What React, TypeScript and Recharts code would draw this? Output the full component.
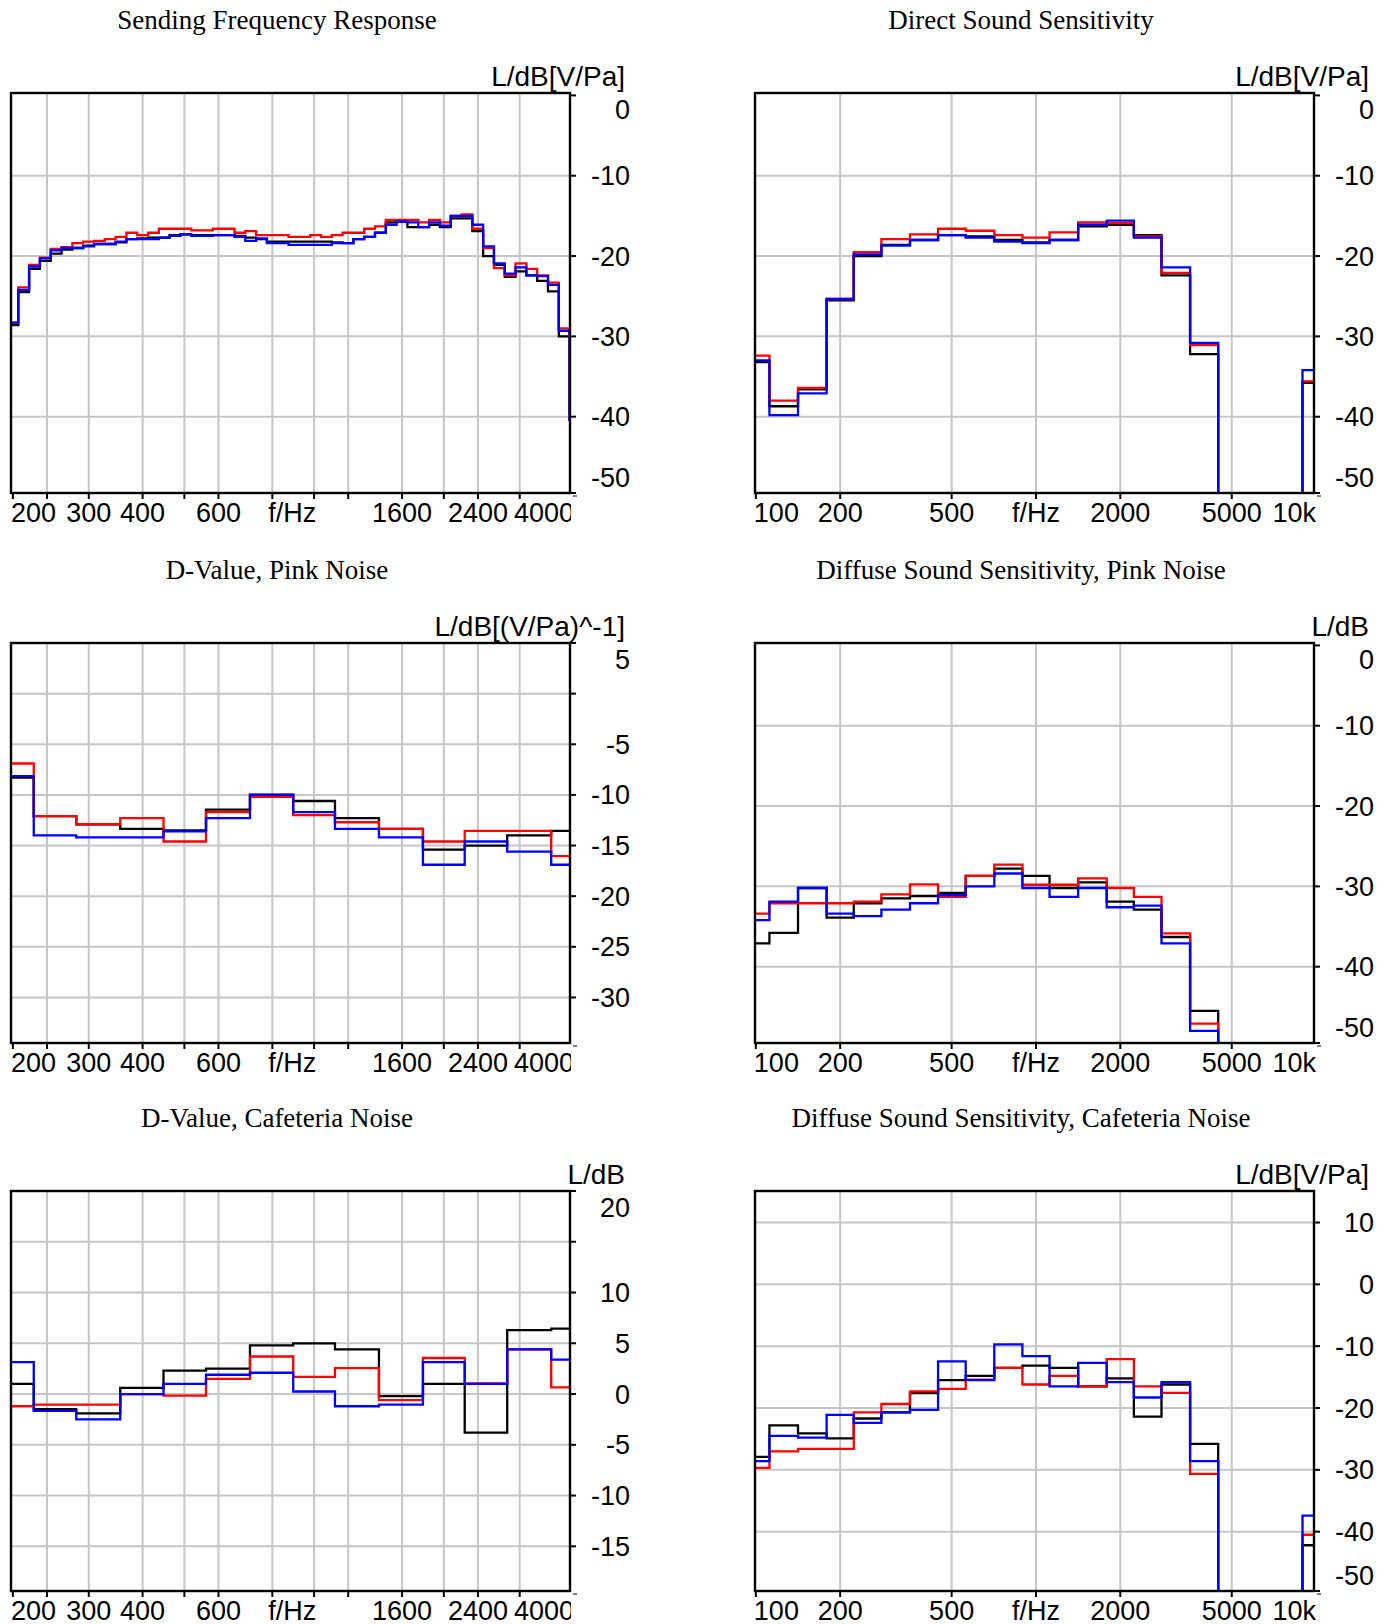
import React from 'react';
import { LineChart, Line, XAxis, YAxis, CartesianGrid } from 'recharts';

const SANS = '"Liberation Sans", Arial, Helvetica, sans-serif';
const SERIF = '"Liberation Serif", "Times New Roman", Times, serif';

// ---------------- data ----------------
// value used for bands that lie below the plotted range (no signal shown)
const OFF = -100;

// 1/12-octave band centres (Hz) – Sending Frequency Response
const sfrBands = [200, 211.9, 224.5, 237.8, 252, 267, 282.8, 299.7, 317.5, 336.4, 356.4, 377.6, 400, 423.8, 449, 475.7, 504, 533.9, 565.7, 599.3, 635, 672.7, 712.7, 755.1, 800, 847.6, 898, 951.4, 1008, 1068, 1131, 1199, 1270, 1345, 1425, 1510, 1600, 1695, 1796, 1903, 2016, 2136, 2263, 2397, 2540, 2691, 2851, 3020, 3200, 3390, 3592, 3805, 4032];
const sfrBlack = [-28.6, -24.5, -21.6, -20.6, -19.7, -19.2, -19.0, -18.7, -18.5, -18.5, -18.3, -17.9, -17.8, -17.7, -17.7, -17.4, -17.3, -17.4, -17.4, -17.4, -17.4, -17.5, -17.7, -17.9, -18.2, -18.2, -18.2, -18.2, -18.2, -18.2, -18.3, -18.4, -17.9, -17.6, -17.1, -15.8, -15.7, -16.4, -16.4, -16.1, -16.4, -15.3, -15.3, -16.9, -20.0, -21.1, -22.6, -21.9, -22.4, -23.1, -24.4, -30.0, -40.4];
const sfrRed = [-28.3, -23.9, -21.1, -20.2, -19.1, -18.9, -18.4, -18.2, -18.1, -17.9, -17.6, -17.1, -17.4, -17.1, -16.6, -16.6, -16.6, -16.8, -16.8, -16.6, -16.6, -17.1, -16.9, -17.4, -17.4, -17.4, -17.6, -17.6, -17.4, -17.6, -17.4, -17.1, -17.1, -16.6, -16.3, -15.5, -15.5, -15.5, -15.8, -15.5, -15.8, -15.0, -14.8, -16.6, -19.0, -21.5, -22.4, -20.9, -21.6, -22.4, -23.3, -29.0, -40.4];
const sfrBlue = [-28.3, -24.2, -21.3, -20.3, -19.3, -19.0, -19.0, -18.8, -18.5, -18.5, -18.2, -17.9, -17.9, -17.9, -17.7, -17.5, -17.3, -17.5, -17.5, -17.4, -17.4, -17.6, -18.1, -17.8, -18.4, -18.4, -18.6, -18.6, -18.6, -18.6, -18.4, -18.4, -17.9, -17.6, -17.1, -16.1, -15.7, -15.8, -16.4, -15.8, -16.2, -15.0, -15.0, -16.1, -18.8, -20.9, -22.2, -21.4, -22.4, -22.5, -23.6, -29.3, -40.4];

// 1/3-octave band centres (Hz), 100 Hz – 10 kHz
const wideBands = [100, 125, 160, 200, 250, 315, 400, 500, 630, 800, 1000, 1250, 1600, 2000, 2500, 3150, 4000, 5000, 6300, 8000, 10000];
// Direct Sound Sensitivity
const dssBlack = [-33.2, -38.7, -36.6, -25.5, -20.0, -18.6, -18.0, -17.4, -17.55, -18.0, -18.3, -18.0, -16.3, -16.1, -17.4, -22.4, -32.2, OFF, OFF, OFF, -35.8];
const dssRed = [-32.4, -38.0, -36.4, -25.35, -19.5, -17.9, -17.3, -16.6, -16.85, -17.4, -17.7, -17.05, -15.8, -15.9, -17.55, -22.1, -31.1, OFF, OFF, OFF, -35.6];
const dssBlue = [-33.0, -39.8, -37.1, -25.35, -19.8, -18.7, -18.0, -17.4, -17.7, -18.2, -18.4, -18.0, -16.1, -15.6, -17.7, -21.4, -30.8, OFF, OFF, OFF, -34.2];
// Diffuse Sound Sensitivity, Pink Noise
const dpnSensBlack = [-37.1, -35.8, -30.2, -33.9, -32.1, -31.5, -31.2, -30.8, -28.7, -27.8, -28.7, -30.2, -29.5, -31.9, -32.9, -36.3, -45.5, OFF, OFF, OFF, OFF];
const dpnSensRed = [-33.4, -32.1, -32.1, -32.1, -31.9, -31.0, -29.75, -31.3, -28.7, -27.3, -29.8, -29.8, -29.0, -30.2, -31.3, -35.85, -47.1, OFF, OFF, OFF, OFF];
const dpnSensBlue = [-34.2, -31.9, -30.2, -33.4, -33.7, -32.9, -32.1, -31.1, -30.0, -28.4, -30.2, -31.3, -30.2, -32.6, -32.4, -37.1, -48.0, OFF, OFF, OFF, OFF];
// Diffuse Sound Sensitivity, Cafeteria Noise
const dcnSensBlack = [-27.9, -22.8, -24.1, -24.9, -21.7, -20.7, -17.6, -15.5, -14.8, -13.5, -13.15, -13.5, -16.5, -15.2, -21.4, -16.2, -25.8, OFF, OFF, OFF, -42.2];
const dcnSensRed = [-29.7, -27.0, -26.6, -26.6, -20.7, -19.35, -17.3, -16.9, -15.4, -13.5, -16.2, -14.8, -16.5, -12.1, -16.5, -17.55, -30.65, OFF, OFF, OFF, -40.5];
const dcnSensBlue = [-28.6, -24.5, -24.8, -21.1, -22.4, -20.7, -20.3, -12.45, -15.5, -9.7, -11.6, -16.5, -12.7, -15.8, -18.3, -15.8, -28.6, OFF, OFF, OFF, -37.4];

// 1/3-octave band centres (Hz), 200 Hz – 4 kHz
const narrowBands = [200, 250, 315, 400, 500, 630, 800, 1000, 1250, 1600, 2000, 2500, 3150, 4000];
// D-Value, Pink Noise
const dvpBlack = [-8.3, -12.1, -12.9, -13.35, -13.5, -11.45, -10.0, -10.6, -12.3, -13.35, -15.4, -15.0, -14.0, -13.55];
const dvpRed = [-6.9, -12.1, -12.9, -12.3, -14.6, -11.7, -10.2, -12.0, -12.7, -13.35, -14.6, -13.55, -13.55, -16.05];
const dvpBlue = [-8.15, -14.0, -14.2, -14.2, -13.6, -12.3, -9.97, -11.7, -13.35, -14.2, -16.9, -14.6, -15.6, -16.9];
// D-Value, Cafeteria Noise
const dvcBlack = [1.0, -1.5, -1.9, 0.6, 2.3, 2.5, 4.8, 5.0, 4.4, -0.2, 1.0, -3.8, 6.3, 6.45];
const dvcRed = [-1.2, -1.05, -1.05, 0.0, -0.15, 1.5, 3.7, 1.7, 2.55, -0.6, 3.55, 1.05, 4.4, 0.65];
const dvcBlue = [3.15, -1.65, -2.5, 0.0, 1.0, 1.9, 2.1, 0.25, -1.2, -1.05, 3.15, 1.0, 4.4, 3.4];

// ---------------- axes ----------------
const narrowDomain = [198, 3925];
const narrowGrid = [240, 300, 400, 500, 600, 800, 1000, 1200, 1600, 2000, 2400, 3000];
const narrowMarks = [200, 240, 300, 400, 500, 600, 800, 1000, 1200, 1600, 2000, 2400, 3000];
const narrowLabelVals = [200, 300, 400, 600, 890, 1600, 2400, 3925];
const narrowLabelText = ['200', '300', '400', '600', 'f/Hz', '1600', '2400', '4000'];

const wideDomain = [99.3, 9830];
const wideGrid = [200, 500, 1000, 2000, 5000];
const wideMarks = [100, 200, 500, 1000, 2000, 5000];
const wideLabelVals = [100, 200, 500, 1000, 2000, 5000, 9830];
const wideLabelText = ['100', '200', '500', 'f/Hz', '2000', '5000', '10k'];

const sensDomain = [-49.5, 0.3];
const sensTicks = [0, -10, -20, -30, -40, -49.5];
const sensLabels = ['0', '-10', '-20', '-30', '-40', '-50'];
const sensGrid = [-10, -20, -30, -40];

const dvpDomain = [-34.5, 5];
const dvpTicks = [5, 0, -5, -10, -15, -20, -25, -30];
const dvpLabels = ['5', '', '-5', '-10', '-15', '-20', '-25', '-30'];
const dvpGrid = [0, -5, -10, -15, -20, -25, -30];

const dvcDomain = [-19.4, 20];
const dvcTicks = [20, 15, 10, 5, 0, -5, -10, -15];
const dvcLabels = ['20', '', '10', '5', '0', '-5', '-10', '-15'];
const dvcGrid = [15, 10, 5, 0, -5, -10, -15];

const cafDomain = [-49.6, 15.1];
const cafTicks = [10, 0, -10, -20, -30, -40, -49.6];
const cafLabels = ['10', '0', '-10', '-20', '-30', '-40', '-50'];
const cafGrid = [10, 0, -10, -20, -30, -40];

const SERIES_COLORS = ['#000000', '#ff0000', '#0000ff'];

// ---------------- layout ----------------
const ML = 6;
const MT = 6;
const PW = 559;
const PH = 400;
const YW = 72;
const XH = 42;
const COLS = [11, 755];
const ROWS = [93, 643, 1191];

function stepData(bands: number[], vals: number[]) {
  const n = bands.length;
  const lo = bands.map((c, i) =>
    i === 0 ? c / Math.sqrt(bands[1] / bands[0]) : Math.sqrt(bands[i - 1] * c)
  );
  const hi = bands[n - 1] * Math.sqrt(bands[n - 1] / bands[n - 2]);
  const pts = vals.map((v, i) => ({ f: lo[i], v }));
  pts.push({ f: hi, v: vals[n - 1] });
  return pts;
}

function makeXTick(cfg: any, clipId: string) {
  return (props: any) => {
    const { x, payload } = props;
    const v = payload.value;
    const yb = MT + PH;
    const idx = cfg.labelVals.indexOf(v);
    const isMark = cfg.marks.indexOf(v) >= 0;
    let anchor = 'middle';
    let tx = x;
    const isLast = idx === cfg.labelVals.length - 1;
    if (idx === 0) {
      anchor = 'start';
      tx = x - 2;
    } else if (isLast) {
      anchor = 'end';
      tx = x + cfg.endDx;
    }
    return (
      <g>
        {isMark && <line x1={x} x2={x} y1={yb} y2={yb + 6} stroke="#000" strokeWidth={2} />}
        {isLast && cfg.clipLast && (
          <defs>
            <clipPath id={clipId}>
              <rect x={x - 120} y={yb} width={120 + cfg.clipDx} height={XH} />
            </clipPath>
          </defs>
        )}
        {isLast && (
          <line x1={x + 3} x2={x + 7} y1={yb + 3} y2={yb + 3} stroke="#000" strokeWidth={1} />
        )}
        {idx >= 0 && (
          <text
            x={tx}
            y={yb + 29}
            textAnchor={anchor}
            fontFamily={SANS}
            fontSize={27}
            fill="#000"
            clipPath={isLast && cfg.clipLast ? `url(#${clipId})` : undefined}
          >
            {cfg.labelText[idx]}
          </text>
        )}
      </g>
    );
  };
}

function makeYTick(cfg: any) {
  return (props: any) => {
    const { y, payload } = props;
    const idx = cfg.ticks.indexOf(payload.value);
    const xr = ML + PW;
    const ty = Math.min(Math.max(y, MT + 16), MT + PH - 16);
    const label = cfg.labels[idx];
    return (
      <g>
        <line x1={xr} x2={xr + 6} y1={y} y2={y} stroke="#000" strokeWidth={2} />
        {label ? (
          <text x={xr + 60} y={ty + 9.5} textAnchor="end" fontFamily={SANS} fontSize={27} fill="#000">
            {label}
          </text>
        ) : null}
      </g>
    );
  };
}

const narrowX = {
  domain: narrowDomain,
  grid: narrowGrid,
  marks: narrowMarks,
  labelVals: narrowLabelVals,
  labelText: narrowLabelText,
  ticks: [200, 240, 300, 400, 500, 600, 800, 890, 1000, 1200, 1600, 2000, 2400, 3000, 3925],
  endDx: 4,
  clipLast: true,
  clipDx: 1,
};
const wideX = {
  domain: wideDomain,
  grid: wideGrid,
  marks: wideMarks,
  labelVals: wideLabelVals,
  labelText: wideLabelText,
  ticks: [100, 200, 500, 1000, 2000, 5000, 9830],
  endDx: 2,
  clipLast: false,
  clipDx: 0,
};

const panels = [
  {
    col: 0, row: 0, title: 'Sending Frequency Response', unit: 'L/dB[V/Pa]', bands: sfrBands,
    x: narrowX, y: { domain: sensDomain, ticks: sensTicks, labels: sensLabels, grid: sensGrid },
    series: [sfrBlack, sfrRed, sfrBlue],
  },
  {
    col: 1, row: 0, title: 'Direct Sound Sensitivity', unit: 'L/dB[V/Pa]', bands: wideBands,
    x: wideX, y: { domain: sensDomain, ticks: sensTicks, labels: sensLabels, grid: sensGrid },
    series: [dssBlack, dssRed, dssBlue],
  },
  {
    col: 0, row: 1, title: 'D-Value, Pink Noise', unit: 'L/dB[(V/Pa)^-1]', bands: narrowBands,
    x: narrowX, y: { domain: dvpDomain, ticks: dvpTicks, labels: dvpLabels, grid: dvpGrid },
    series: [dvpBlack, dvpRed, dvpBlue],
  },
  {
    col: 1, row: 1, title: 'Diffuse Sound Sensitivity, Pink Noise', unit: 'L/dB', bands: wideBands,
    x: wideX, y: { domain: sensDomain, ticks: sensTicks, labels: sensLabels, grid: sensGrid },
    series: [dpnSensBlack, dpnSensRed, dpnSensBlue],
  },
  {
    col: 0, row: 2, title: 'D-Value, Cafeteria Noise', unit: 'L/dB', bands: narrowBands,
    x: narrowX, y: { domain: dvcDomain, ticks: dvcTicks, labels: dvcLabels, grid: dvcGrid },
    series: [dvcBlack, dvcRed, dvcBlue],
  },
  {
    col: 1, row: 2, title: 'Diffuse Sound Sensitivity, Cafeteria Noise', unit: 'L/dB[V/Pa]', bands: wideBands,
    x: wideX, y: { domain: cafDomain, ticks: cafTicks, labels: cafLabels, grid: cafGrid },
    series: [dcnSensBlack, dcnSensRed, dcnSensBlue],
  },
];

function Panel({ p, idx }: { p: any; idx: number }) {
  const left = COLS[p.col];
  const top = ROWS[p.row];
  return (
    <div style={{ position: 'absolute', left: left - ML, top: top - MT }}>
      <LineChart
        width={ML + PW + YW}
        height={MT + PH + XH}
        margin={{ top: MT, right: 0, bottom: 0, left: ML }}
      >
        <CartesianGrid
          stroke="#c6c6c6"
          strokeWidth={2}
          verticalValues={p.x.grid}
          horizontalValues={p.y.grid}
        />
        <XAxis
          type="number"
          dataKey="f"
          scale="log"
          domain={p.x.domain}
          allowDataOverflow
          ticks={p.x.ticks}
          interval={0}
          height={XH}
          tickLine={false}
          axisLine={false}
          tick={makeXTick(p.x, `xlabclip-${idx}`)}
        />
        <YAxis
          type="number"
          orientation="right"
          domain={p.y.domain}
          allowDataOverflow
          ticks={p.y.ticks}
          interval={0}
          width={YW}
          tickLine={false}
          axisLine={false}
          tick={makeYTick(p.y)}
        />
        {p.series.map((vals: number[], i: number) => (
          <Line
            key={i}
            data={stepData(p.bands, vals)}
            dataKey="v"
            type="stepAfter"
            stroke={SERIES_COLORS[i]}
            strokeWidth={2.3}
            dot={false}
            activeDot={false}
            isAnimationActive={false}
          />
        ))}
      </LineChart>
    </div>
  );
}

export default function App() {
  return (
    <div style={{ position: 'absolute', left: 0, top: 0, width: 1391, height: 1624, background: '#fff' }}>
      {panels.map((p, i) => (
        <Panel key={i} p={p} idx={i} />
      ))}
      <svg
        width={1391}
        height={1624}
        style={{ position: 'absolute', left: 0, top: 0, pointerEvents: 'none' }}
      >
        {panels.map((p, i) => {
          const left = COLS[p.col];
          const top = ROWS[p.row];
          return (
            <g key={i}>
              <text x={left + 266} y={top - 64} textAnchor="middle" fontFamily={SERIF} fontSize={27} fill="#000">
                {p.title}
              </text>
              <text x={left + PW + 55} y={top - 7} textAnchor="end" fontFamily={SANS} fontSize={28} fill="#000">
                {p.unit}
              </text>
              <rect x={left} y={top} width={PW} height={PH} fill="none" stroke="#000" strokeWidth={2.4} />
            </g>
          );
        })}
      </svg>
    </div>
  );
}
